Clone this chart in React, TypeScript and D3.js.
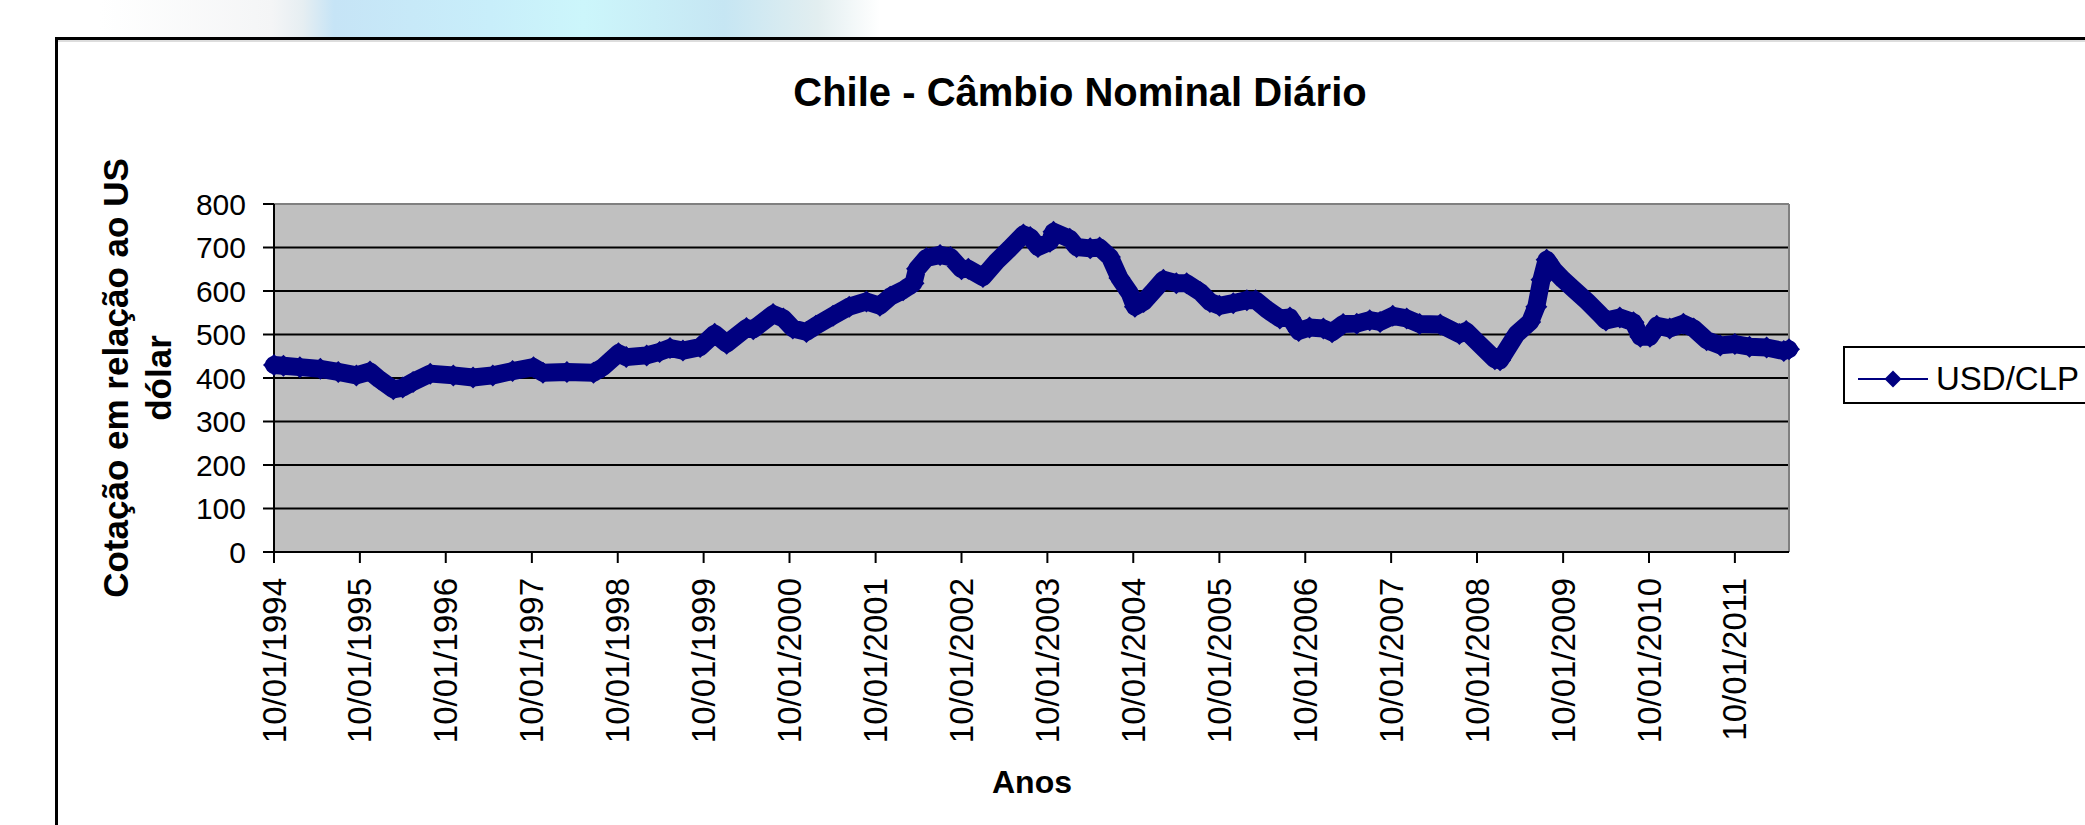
import React from "react";
import * as d3 from "d3";

const chartTitle = "Chile - Câmbio Nominal Diário";
const yTitleLines = ["Cotação em relação ao US", "dólar"];
const xTitle = "Anos";
const seriesName = "USD/CLP";

const dates = [
  "1994-01-10","1994-02-19","1994-04-30","1994-07-26","1994-10-10","1994-12-26",
  "1995-02-22","1995-04-03","1995-06-01","1995-07-11","1995-08-24","1995-11-05",
  "1996-02-11","1996-05-05","1996-07-28","1996-10-20",
  "1997-01-17","1997-02-26","1997-06-08","1997-09-29","1997-11-08",
  "1998-01-13","1998-02-15","1998-05-13","1998-07-07","1998-08-20","1998-10-14","1998-12-26",
  "1999-02-26","1999-04-18","1999-07-11","1999-08-09","1999-11-01","1999-12-15",
  "2000-01-24","2000-03-22","2000-05-01","2000-07-13","2000-09-20","2000-12-02",
  "2001-01-28","2001-03-13","2001-05-07","2001-06-20","2001-07-05","2001-08-14","2001-10-11","2001-11-24",
  "2002-01-10","2002-02-08","2002-04-11","2002-06-08","2002-08-02","2002-09-30","2002-10-29","2002-12-01",
  "2003-01-21","2003-02-05","2003-04-15","2003-05-14","2003-07-11","2003-08-20","2003-10-03","2003-11-12","2003-12-26",
  "2004-01-17","2004-02-23","2004-04-03","2004-05-17","2004-07-11","2004-08-24","2004-10-22","2004-12-01",
  "2005-01-10","2005-03-10","2005-05-07","2005-06-13","2005-07-30","2005-09-24","2005-11-06","2005-12-13",
  "2006-01-28","2006-03-28","2006-05-04","2006-06-20","2006-08-17","2006-10-11","2006-11-24",
  "2007-01-17","2007-03-17","2007-05-11","2007-08-07","2007-10-27","2007-11-25",
  "2008-01-20","2008-03-26","2008-04-17","2008-06-26","2008-08-23","2008-09-18","2008-10-10","2008-11-01","2008-11-30",
  "2009-01-10","2009-02-22","2009-04-22","2009-06-15","2009-07-11","2009-09-08","2009-11-05","2009-12-04",
  "2010-01-14","2010-02-12","2010-04-08","2010-06-05","2010-07-19","2010-09-12","2010-11-09",
  "2011-01-10","2011-03-13","2011-05-25","2011-08-06","2011-08-28"
];

const values = [
  430,428,425,421,414,406,
  415,397,374,378,391,410,
  406,401,406,416,
  425,412,414,412,425,
  457,448,452,460,469,463,471,
  502,479,515,512,547,537,
  514,506,520,543,564,576,
  566,587,602,618,651,676,683,678,
  650,651,632,668,697,730,724,701,
  713,736,720,701,698,700,678,630,595,
  564,575,599,626,618,618,597,575,
  566,572,579,579,558,537,539,508,
  516,514,505,524,525,533,529,
  543,537,524,523,501,508,
  478,443,441,501,529,564,626,672,649,
  626,605,576,547,532,539,528,495,
  495,520,514,525,514,487,475,
  478,472,470,462,466
];

const yTicks = [0, 100, 200, 300, 400, 500, 600, 700, 800];
const xTickLabels = [
  "10/01/1994","10/01/1995","10/01/1996","10/01/1997","10/01/1998","10/01/1999",
  "10/01/2000","10/01/2001","10/01/2002","10/01/2003","10/01/2004","10/01/2005",
  "10/01/2006","10/01/2007","10/01/2008","10/01/2009","10/01/2010","10/01/2011"
];

const FONT = "'Liberation Sans', Arial, Helvetica, sans-serif";
const NAVY = "#000080";

export default function App() {
  const W = 2085, H = 825;
  const left = 274, right = 1789, top = 204, bottom = 552;
  const parseIso = d3.timeParse("%Y-%m-%d");
  const parseTick = d3.timeParse("%d/%m/%Y");
  const pts = dates.map((d, i) => ({ date: parseIso(d) as Date, value: values[i] }));

  const x = d3.scaleTime()
    .domain([pts[0].date, pts[pts.length - 1].date])
    .range([left, right]);
  const y = d3.scaleLinear().domain([0, 800]).range([bottom, top]);

  const line = d3.line<{ date: Date; value: number }>()
    .x((d) => x(d.date))
    .y((d) => y(d.value));

  const diamond = (cx: number, cy: number, r: number) =>
    `M${cx},${cy - r}L${cx + r},${cy}L${cx},${cy + r}L${cx - r},${cy}Z`;

  return (
    <svg
      width={W}
      height={H}
      style={{ position: "absolute", left: 0, top: 0, display: "block", background: "#fff" }}
      fontFamily={FONT}
    >
      <defs>
        <linearGradient id="bgGrad" x1="0" x2="1" y1="0" y2="0">
          <stop offset="0" stopColor="#ffffff" />
          <stop offset="0.22" stopColor="#f4f5f6" />
          <stop offset="0.26" stopColor="#e6eef2" />
          <stop offset="0.30" stopColor="#c6e4f6" />
          <stop offset="0.5" stopColor="#c8eefa" />
          <stop offset="0.62" stopColor="#ccf6fb" />
          <stop offset="0.8" stopColor="#c6e6f3" />
          <stop offset="0.92" stopColor="#e2eef0" />
          <stop offset="1" stopColor="#ffffff" />
        </linearGradient>
      </defs>
      <rect x={100} y={0} width={780} height={40} fill="url(#bgGrad)" />

      {/* chart area */}
      <rect x={56.5} y={38.5} width={2100} height={900} fill="#fff" stroke="#000" strokeWidth={3} />
      <line x1={58} x2={W} y1={41} y2={41} stroke="#bbb" strokeWidth={1} />

      {/* title */}
      <text x={1080} y={106} textAnchor="middle" fontSize={40} fontWeight="bold" fill="#000">
        {chartTitle}
      </text>

      {/* plot area */}
      <rect x={left} y={top} width={right - left} height={bottom - top} fill="#c0c0c0" />
      {yTicks.map((t) => (
        <line key={"g" + t} x1={left} x2={right} y1={y(t)} y2={y(t)} stroke="#000" strokeWidth={2} />
      ))}
      <line x1={left} x2={right} y1={top} y2={top} stroke="#808080" strokeWidth={2} />
      <line x1={right} x2={right} y1={top} y2={bottom} stroke="#808080" strokeWidth={2} />
      <line x1={left} x2={left} y1={top} y2={bottom} stroke="#000" strokeWidth={2} />
      <line x1={left} x2={right} y1={bottom} y2={bottom} stroke="#000" strokeWidth={2} />

      {/* y axis */}
      {yTicks.map((t) => (
        <g key={"y" + t}>
          <line x1={left - 11} x2={left} y1={y(t)} y2={y(t)} stroke="#000" strokeWidth={2} />
          <text x={246} y={y(t)} textAnchor="end" dominantBaseline="central" fontSize={30} fill="#000">
            {t}
          </text>
        </g>
      ))}

      {/* x axis */}
      {xTickLabels.map((lab) => {
        const xx = x(parseTick(lab) as Date);
        return (
          <g key={lab}>
            <line x1={xx} x2={xx} y1={bottom} y2={bottom + 11} stroke="#000" strokeWidth={2} />
            <text
              transform={`translate(${xx},${bottom + 26}) rotate(-90)`}
              textAnchor="end"
              dominantBaseline="central"
              fontSize={33}
              fill="#000"
            >
              {lab}
            </text>
          </g>
        );
      })}

      {/* axis titles */}
      <text transform={`translate(128,378) rotate(-90)`} textAnchor="middle" fontSize={35} fontWeight="bold" fill="#000">
        {yTitleLines[0]}
      </text>
      <text transform={`translate(171,378) rotate(-90)`} textAnchor="middle" fontSize={35} fontWeight="bold" fill="#000">
        {yTitleLines[1]}
      </text>
      <text x={1032} y={793} textAnchor="middle" fontSize={32} fontWeight="bold" fill="#000">
        {xTitle}
      </text>

      {/* series */}
      <path d={line(pts) || ""} fill="none" stroke={NAVY} strokeWidth={18} strokeLinejoin="round" strokeLinecap="round" />
      {pts.map((p, i) => (
        <path key={"m" + i} d={diamond(x(p.date), y(p.value), 11)} fill={NAVY} />
      ))}

      {/* legend */}
      <rect x={1844} y={347} width={300} height={56} fill="#fff" stroke="#000" strokeWidth={2} />
      <line x1={1858} x2={1928} y1={379} y2={379} stroke={NAVY} strokeWidth={2} />
      <path d={diamond(1893, 379, 8.5)} fill={NAVY} />
      <text x={1936} y={390} fontSize={33} fill="#000">
        {seriesName}
      </text>
    </svg>
  );
}
